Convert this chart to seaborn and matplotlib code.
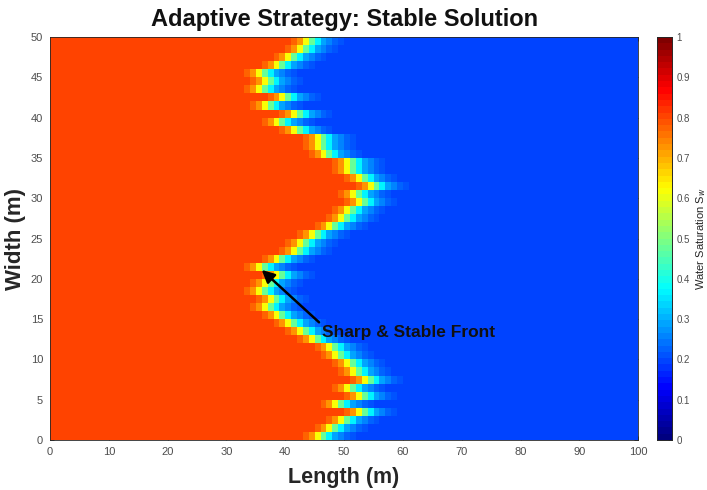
import matplotlib
matplotlib.use("Agg")
import matplotlib.pyplot as plt
from matplotlib.colors import LinearSegmentedColormap
import seaborn as sns
import pandas as pd
import numpy as np

# Clean white style, fonts set after the theme
sns.set_style("white")
plt.rcParams["font.family"] = ["Liberation Sans", "DejaVu Sans"]

# Domain size (m) - one cell per metre
LENGTH_M = 100
WIDTH_M = 50

# Injected / initial water saturation
SW_INJ = 0.80
SW_INIT = 0.20

# Front position (m) of each row, bottom row (y=0) first
FRONT_POS = [45, 47, 49, 52, 48, 52, 50, 53, 51, 50,
             48, 47, 44, 42, 40, 38, 36, 37, 35, 36,
             38, 35, 38, 41, 42, 44, 47, 49, 50, 52,
             51, 54, 52, 50, 50, 46, 45, 45, 41, 38,
             41, 36, 39, 35, 36, 35, 38, 40, 42, 43]

# Saturation across the front, starting 3 cells behind it
PROFILE = [0.80, 0.78, 0.72, 0.62, 0.48, 0.36, 0.29, 0.25, 0.22, 0.21]
PROFILE_LAG = 3

X_TICKS = list(range(0, 101, 10))
Y_TICKS = list(range(0, 51, 5))
CBAR_TICKS = [round(0.1 * i, 1) for i in range(11)]

# MATLAB style jet (matplotlib's jet is a bit more orange at 0.8)
jet_ml = LinearSegmentedColormap("jet_ml", {
    "red":   [(0, 0, 0), (3 / 8, 0, 0), (5 / 8, 1, 1), (7 / 8, 1, 1), (1, 0.5, 0.5)],
    "green": [(0, 0, 0), (1 / 8, 0, 0), (3 / 8, 1, 1), (5 / 8, 1, 1), (7 / 8, 0, 0), (1, 0, 0)],
    "blue":  [(0, 0.5, 0.5), (1 / 8, 1, 1), (3 / 8, 1, 1), (5 / 8, 0, 0), (1, 0, 0)],
}, N=64)

# Build the saturation field from the front positions
grid = np.full((WIDTH_M, LENGTH_M), SW_INIT)
for row, front in enumerate(FRONT_POS):
    start = front - PROFILE_LAG
    grid[row, :start] = SW_INJ
    for k, s in enumerate(PROFILE):
        grid[row, start + k] = s
sat_df = pd.DataFrame(grid)

fig = plt.figure(figsize=(7.07, 4.90), dpi=100)
ax = fig.add_axes([0.0707, 0.102, 0.832, 0.8225])
cax = fig.add_axes([0.929, 0.102, 0.0212, 0.8225])

sns.heatmap(sat_df, cmap=jet_ml, vmin=0, vmax=1,
            ax=ax, cbar_ax=cax, xticklabels=False, yticklabels=False)

ax.set_xlim(0, LENGTH_M)
ax.set_ylim(0, WIDTH_M)
ax.set_xticks(X_TICKS)
ax.set_xticklabels([str(t) for t in X_TICKS])
ax.set_yticks(Y_TICKS)
ax.set_yticklabels([str(t) for t in Y_TICKS], rotation=0)
ax.tick_params(direction="in", length=3, width=0.6, color="#262626",
               labelcolor="#4d4d4d", labelsize=8, pad=5,
               top=True, right=True, bottom=True, left=True)
for side in ax.spines.values():
    side.set_visible(True)
    side.set_color("#262626")
    side.set_linewidth(0.6)

ax.set_title("Adaptive Strategy: Stable Solution", fontsize=17,
             fontweight="bold", pad=8, color="#111111")
ax.set_xlabel("Length (m)", fontsize=15.5, fontweight="bold", labelpad=7,
              color="#262626")
ax.set_ylabel("Width (m)", fontsize=16, fontweight="bold", labelpad=3,
              color="#262626")

# Arrow pointing at the front
ax.annotate("Sharp & Stable Front", xy=(36.0, 21.1), xytext=(46.3, 13.3),
            fontsize=12.5, fontweight="bold", color="#111111",
            ha="left", va="center",
            arrowprops=dict(arrowstyle="-|>,head_length=0.6,head_width=0.3",
                            color="black", lw=1.8, relpos=(0, 1),
                            shrinkA=0, shrinkB=0))

# Colorbar styling
cax.set_yticks(CBAR_TICKS)
cax.set_yticklabels([f"{t:g}" for t in CBAR_TICKS])
cax.tick_params(direction="in", length=3, width=0.6, color="#262626",
                labelcolor="#4d4d4d", labelsize=7, right=True, left=False)
cax.set_ylabel("Water Saturation S$_w$", fontsize=8, labelpad=3,
               color="#262626")
for side in cax.spines.values():
    side.set_visible(True)
    side.set_color("#262626")
    side.set_linewidth(0.6)

fig.savefig("out.png", dpi=100)
plt.close(fig)
